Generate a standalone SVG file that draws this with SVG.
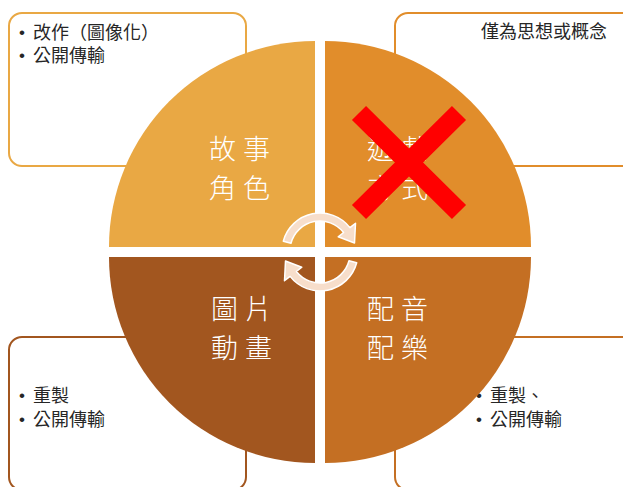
<svg xmlns="http://www.w3.org/2000/svg" width="623" height="487" viewBox="0 0 623 487">
<style>
.box{fill:#fff;stroke-width:2}
.t{font-family:"Liberation Sans","Noto Sans CJK TC",sans-serif;font-size:18px;fill:#262626}
.b{font-family:"Liberation Sans",sans-serif;font-size:17px;fill:#262626}
.lbl{font-family:"Noto Sans CJK TC","Noto Sans CJK SC",sans-serif;font-size:27px;font-weight:300;fill:#fff;letter-spacing:7px}
.arr{fill:#F7DECB;stroke:#fff;stroke-width:1.5;stroke-linejoin:round}
</style>
<rect width="623" height="487" fill="#fff"/>
<g id="box-tl">
<rect class="box" x="9" y="13" width="237" height="153" rx="13" stroke="#E9A844"/>
<text class="b" x="19" y="38">•</text><text class="t" x="33" y="38.5">改作（圖像化）</text>
<text class="b" x="19" y="61">•</text><text class="t" x="33" y="61.5">公開傳輸</text>
</g>
<g id="box-tr">
<rect class="box" x="395" y="13" width="240" height="153" rx="13" stroke="#E18D2B"/>
<text class="t" x="607" y="38" text-anchor="end">僅為思想或概念</text>
</g>
<g id="box-bl">
<rect class="box" x="9" y="337" width="237" height="153" rx="13" stroke="#A2561F"/>
<text class="b" x="19" y="401">•</text><text class="t" x="33" y="401.5">重製</text>
<text class="b" x="19" y="425">•</text><text class="t" x="33" y="425.5">公開傳輸</text>
</g>
<g id="box-br">
<rect class="box" x="395" y="337" width="240" height="153" rx="13" stroke="#C46F23"/>
<text class="b" x="476" y="401">•</text><text class="t" x="490" y="401.5">重製、</text>
<text class="b" x="476" y="425">•</text><text class="t" x="490" y="425.5">公開傳輸</text>
</g>
<g id="q-tl">
<path d="M315 247 L109 247 A206 206 0 0 1 315 41 Z" fill="#E9A844"/>
<text class="lbl"><tspan x="209" y="158.5">故事</tspan><tspan x="209" y="198">角色</tspan></text>
</g>
<g id="q-tr">
<path d="M325 247 L325 41 A206 206 0 0 1 531 247 Z" fill="#E18D2B"/>
<text class="lbl"><tspan x="367" y="158.5">遊戲</tspan><tspan x="367" y="198">方式</tspan></text>
</g>
<g id="q-bl">
<path d="M315 257 L315 463 A206 206 0 0 1 109 257 Z" fill="#A2561F"/>
<text class="lbl"><tspan x="211" y="318.5">圖片</tspan><tspan x="211" y="358">動畫</tspan></text>
</g>
<g id="q-br">
<path d="M325 257 L531 257 A206 206 0 0 1 325 463 Z" fill="#C46F23"/>
<text class="lbl"><tspan x="367" y="318.5">配音</tspan><tspan x="367" y="358">配樂</tspan></text>
</g>
<g id="connectors">
<path class="arr" d="M283.3 241.2 A38 38 0 0 1 349.9 227.6 L355.5 223.3 L354.5 243 L338.2 236.8 L343.6 232.5 A30 30 0 0 0 291 243.2 Z"/>
<path class="arr" transform="rotate(180 320 252)" d="M283.3 241.2 A38 38 0 0 1 349.9 227.6 L355.5 223.3 L354.5 243 L338.2 236.8 L343.6 232.5 A30 30 0 0 0 291 243.2 Z"/>
</g>
<g id="cross">
<path d="M359 113 L459 212 M459 113 L359 212" stroke="#FF0000" stroke-width="20"/>
</g>
</svg>
